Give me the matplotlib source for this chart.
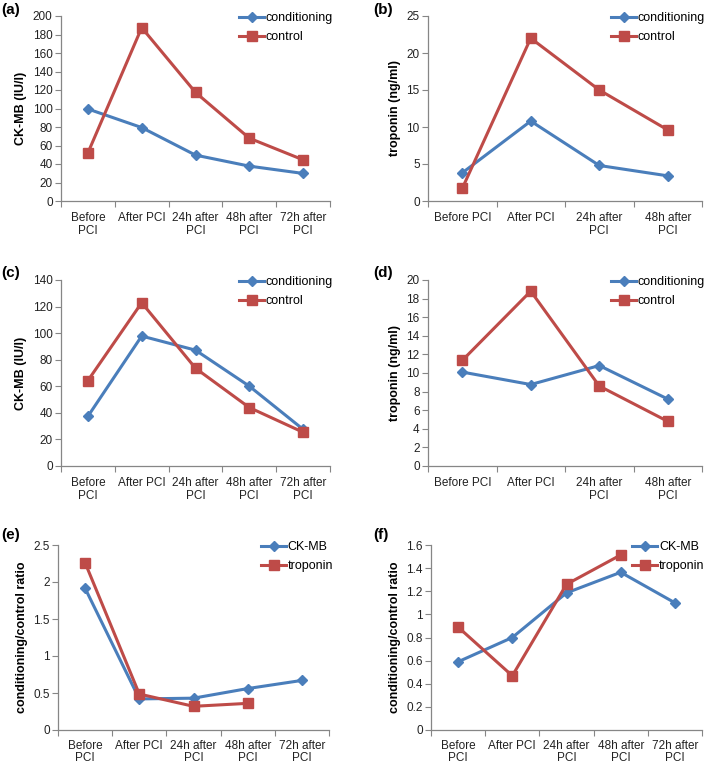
import matplotlib
matplotlib.use("Agg")
import matplotlib.pyplot as plt
import numpy as np

plt.rcParams['font.family'] = ['Liberation Sans', 'DejaVu Sans']

# ---- data ----
cats5 = ["Before\nPCI", "After PCI", "24h after\nPCI", "48h after\nPCI", "72h after\nPCI"]
cats4 = ["Before PCI", "After PCI", "24h after\nPCI", "48h after\nPCI"]

a_cond = [99.5, 79.4, 49.6, 37.7, 29.8]
a_ctrl = [52.0, 187.4, 117.4, 67.9, 44.5]

b_cond = [3.8, 10.8, 4.8, 3.4]
b_ctrl = [1.7, 22.0, 15.0, 9.6]

c_cond = [37.4, 97.8, 87.2, 60.1, 27.6]
c_ctrl = [64.3, 122.9, 73.6, 44.0, 25.4]

d_cond = [10.1, 8.76, 10.8, 7.2]
d_ctrl = [11.35, 18.8, 8.6, 4.8]

e_ckmb = [1.915, 0.42, 0.43, 0.56, 0.67]
e_trop = [2.26, 0.486, 0.32, 0.36]

f_ckmb = [0.59, 0.80, 1.186, 1.364, 1.10]
f_trop = [0.89, 0.469, 1.26, 1.514]

BLUE = "#4A7EBB"
RED = "#BE4B48"
AXC = "#868686"

W, H = 704, 764
fig = plt.figure(figsize=(W / 100, H / 100), dpi=100)


def make_ax(l, r, t, b):
    return fig.add_axes([l / W, 1 - b / H, (r - l) / W, (b - t) / H])


def style(ax, cats, ylim, yticks, yticklabels, ylabel, s1, s2, labels, leg_x, leg_y, xpad=8):
    n = len(cats)
    x1 = np.arange(len(s1))
    x2 = np.arange(len(s2))
    ax.plot(x1, s1, color=BLUE, lw=2.2, marker="D", ms=5, mfc=BLUE, mec=BLUE, label=labels[0])
    ax.plot(x2, s2, color=RED, lw=2.2, marker="s", ms=7, mfc=RED, mec=RED, label=labels[1])
    ax.set_xlim(-0.5, n - 0.5)
    ax.set_ylim(*ylim)
    ax.set_yticks(yticks)
    ax.set_yticklabels(yticklabels, fontsize=8.5, color="#222222")
    ax.set_xticks(np.arange(n))
    ax.set_xticklabels(cats, fontsize=8.5, color="#222222", linespacing=1.05)
    ax.set_xticks(np.arange(n + 1) - 0.5, minor=True)
    ax.tick_params(axis="x", which="major", length=0, pad=xpad)
    ax.tick_params(axis="x", which="minor", length=4, color=AXC, width=0.8)
    ax.tick_params(axis="y", length=4, color=AXC, width=0.8, pad=2)
    for s in ["top", "right"]:
        ax.spines[s].set_visible(False)
    for s in ["left", "bottom"]:
        ax.spines[s].set_color(AXC)
        ax.spines[s].set_linewidth(0.9)
    ax.set_ylabel(ylabel, fontsize=9, fontweight="bold", labelpad=4)
    ax.patch.set_alpha(0)
    ax.legend(loc="upper left", bbox_to_anchor=(leg_x / W, 1 - leg_y / H),
              bbox_transform=fig.transFigure, frameon=False, fontsize=9,
              handlelength=2.0, handletextpad=0.15, labelspacing=0.55,
              borderpad=0, borderaxespad=0, numpoints=1)
    return ax


def panel_label(x, y, s):
    fig.text(x / W, 1 - y / H, s, fontsize=11, fontweight="bold", va="center")


# (a)
ax = make_ax(61, 330, 16, 201)
style(ax, cats5, (0, 200), np.arange(0, 201, 20), [str(v) for v in range(0, 201, 20)],
      "CK-MB (IU/l)", a_cond, a_ctrl, ["conditioning", "control"], 239, 12)
panel_label(1, 10, "(a)")

# (b)
ax = make_ax(428, 702, 16, 201)
style(ax, cats4, (0, 25), np.arange(0, 26, 5), [str(v) for v in range(0, 26, 5)],
      "troponin (ng/ml)", b_cond, b_ctrl, ["conditioning", "control"], 611, 12)
panel_label(373, 10, "(b)")

# (c)
ax = make_ax(61, 330, 280, 466)
style(ax, cats5, (0, 140), np.arange(0, 141, 20), [str(v) for v in range(0, 141, 20)],
      "CK-MB (IU/l)", c_cond, c_ctrl, ["conditioning", "control"], 239, 276)
panel_label(1, 273, "(c)")

# (d)
ax = make_ax(428, 702, 280, 466)
style(ax, cats4, (0, 20), np.arange(0, 21, 2), [str(v) for v in range(0, 21, 2)],
      "troponin (ng/ml)", d_cond, d_ctrl, ["conditioning", "control"], 611, 276)
panel_label(373, 273, "(d)")

# (e)
ax = make_ax(58, 329, 545, 730)
eticks = [0, 0.5, 1, 1.5, 2, 2.5]
style(ax, cats5, (0, 2.5), eticks, ["0", "0.5", "1", "1.5", "2", "2.5"],
      "conditioning/control ratio", e_ckmb, e_trop, ["CK-MB", "troponin"], 261, 541, xpad=7)
panel_label(1, 535, "(e)")

# (f)
ax = make_ax(431, 702, 545, 730)
fticks = [0, 0.2, 0.4, 0.6, 0.8, 1.0, 1.2, 1.4, 1.6]
style(ax, cats5, (0, 1.6), fticks, ["0", "0.2", "0.4", "0.6", "0.8", "1", "1.2", "1.4", "1.6"],
      "conditioning/control ratio", f_ckmb, f_trop, ["CK-MB", "troponin"], 632, 541, xpad=7)
panel_label(373, 535, "(f)")

fig.savefig("out.png", dpi=100)
